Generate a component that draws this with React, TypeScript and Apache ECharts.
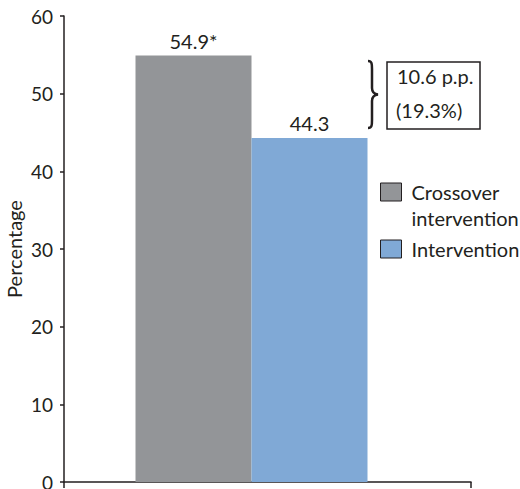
import React, { useEffect, useRef } from "react";
import * as echarts from "echarts";

const categories = [""];
const seriesNames = ["Crossover intervention", "Intervention"];
const values = [54.9, 44.3];
const significance = ["*", ""];
const colors = ["#939598", "#80a9d6"];
const yMin = 0;
const yMax = 60;
const yInterval = 10;
const yAxisName = "Percentage";

const diff = values[0] - values[1];
const diffLabel = diff.toFixed(1) + " p.p.";
const relLabel = "(" + ((diff / values[0]) * 100).toFixed(1) + "%)";

const ink = "#231f20";
const font = "Lato";

const braceD =
  "M0 0 C4 0 4 3 4 8 L4 27 C4 31 6 33 10 33.5 C6 34 4 36 4 40 L4 59 C4 64 4 67 0 67";
echarts.graphic.registerShape("brace", echarts.graphic.extendPath(braceD, {}));

export default function App() {
  const ref = useRef<HTMLDivElement>(null);
  useEffect(() => {
    if (!ref.current) return;
    const chart = echarts.init(ref.current, null, { renderer: "svg" });
    chart.setOption({
      animation: false,
      textStyle: { fontFamily: font, color: ink },
      grid: [
        { left: 64, top: 16, width: 375, height: 466, outerBoundsMode: "none", containLabel: false },
        { left: 64, top: 16, width: 407, height: 466, outerBoundsMode: "none", containLabel: false },
      ],
      xAxis: [
        {
          type: "category",
          gridIndex: 0,
          data: categories,
          axisLine: { show: false },
          axisTick: { show: false },
          axisLabel: { show: false },
        },
        {
          type: "category",
          gridIndex: 1,
          data: categories,
          axisLine: { show: true, lineStyle: { color: ink, width: 1.5 } },
          axisTick: { show: true, length: 6, lineStyle: { color: ink, width: 1.5 } },
          axisLabel: { show: false },
        },
      ],
      yAxis: [
        {
          type: "value",
          gridIndex: 0,
          min: yMin,
          max: yMax,
          interval: yInterval,
          name: yAxisName,
          nameLocation: "middle",
          nameGap: 40,
          nameMoveOverlap: false,
          nameTextStyle: { fontFamily: font, fontSize: 20, color: ink },
          axisLine: { show: true, lineStyle: { color: ink, width: 1.5 } },
          axisTick: { show: true, length: 4, lineStyle: { color: ink, width: 1.5 } },
          axisLabel: { margin: 11, fontFamily: font, fontSize: 19, color: ink },
          splitLine: { show: false },
        },
        {
          type: "value",
          gridIndex: 1,
          min: yMin,
          max: yMax,
          interval: yInterval,
          show: false,
          splitLine: { show: false },
        },
      ],
      legend: {
        orient: "vertical",
        left: 380,
        top: 153,
        padding: 0,
        itemWidth: 21,
        itemHeight: 18,
        itemGap: 5,
        icon: "rect",
        data: seriesNames.map((name) => ({
          name,
          itemStyle: { borderColor: ink, borderWidth: 1 },
        })),
        formatter: (name: string) =>
          name.indexOf(" ") >= 0 ? "\n" + name.replace(" ", "\n") : name,
        textStyle: {
          fontFamily: font,
          fontSize: 20,
          color: ink,
          lineHeight: 26,
          padding: [0, 0, 0, 5],
        },
      },
      series: seriesNames.map((name, i) => ({
        type: "bar",
        name,
        xAxisIndex: 0,
        yAxisIndex: 0,
        barWidth: 116,
        barGap: 0,
        data: [values[i]],
        itemStyle: { color: colors[i] },
        label: {
          show: true,
          position: "top",
          distance: 5,
          fontFamily: font,
          fontSize: 20,
          color: ink,
          formatter: (p: any) => p.value.toFixed(1) + significance[i],
        },
      })),
      graphic: [
        {
          type: "brace",
          x: 368,
          y: 61,
          style: { fill: "none", stroke: ink, lineWidth: 2.5 },
        },
        {
          type: "rect",
          shape: { x: 387, y: 62, width: 93, height: 67 },
          style: { fill: "#fff", stroke: ink, lineWidth: 1.5 },
        },
        {
          type: "text",
          x: 397,
          y: 76,
          style: {
            text: diffLabel,
            fontFamily: font,
            fontSize: 20,
            fill: ink,
            verticalAlign: "middle",
          },
        },
        {
          type: "text",
          x: 396,
          y: 110,
          style: {
            text: relLabel,
            fontFamily: font,
            fontSize: 20,
            fill: ink,
            verticalAlign: "middle",
          },
        },
      ],
    });
    return () => chart.dispose();
  }, []);
  return (
    <div
      ref={ref}
      style={{ position: "absolute", left: 0, top: 0, width: 520, height: 489 }}
    />
  );
}
